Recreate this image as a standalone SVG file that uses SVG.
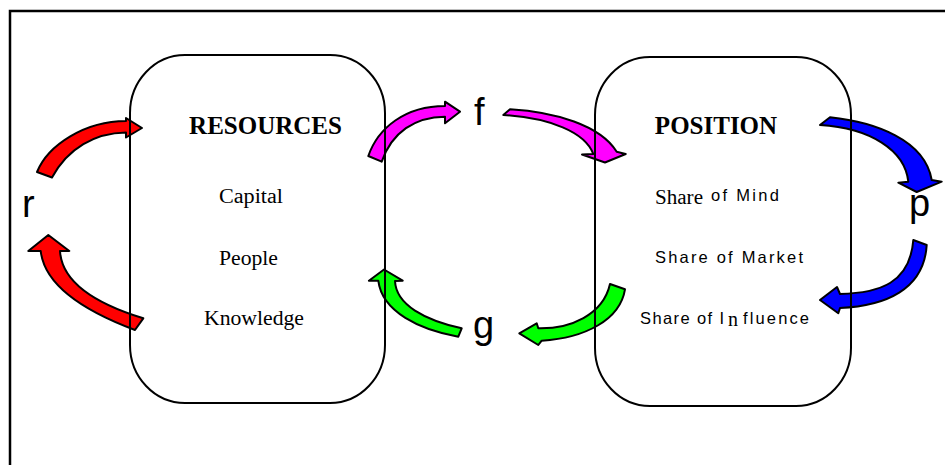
<svg xmlns="http://www.w3.org/2000/svg" width="945" height="465" viewBox="0 0 945 465">
<style>
.frame{fill:none;stroke:#000;stroke-width:2.5}
.box{fill:none;stroke:#000;stroke-width:2}
.arr{stroke:#000;stroke-width:2;stroke-linejoin:round}
.red{fill:#ff0000}.mag{fill:#ff00ff}.blue{fill:#0000ff}.green{fill:#00ff00}
.title{font-family:"Liberation Serif",serif;font-weight:bold;font-size:25px;fill:#000}
.serif{font-family:"Liberation Serif",serif;font-size:20px;fill:#000}
.sans{font-family:"Liberation Sans",Arial,sans-serif;font-size:16.5px;fill:#000}
.lbl{font-family:"Liberation Sans",Arial,sans-serif;font-size:38px;fill:#000}
</style>
<rect width="945" height="465" fill="#fff"/>
<rect class="frame" x="10" y="11" width="960" height="480"/>
<g id="connectors">
<path class="arr red" d="M37,172 C48,145 85,121 126,121 L126,118 L142,128 L126,137.5 L126,132.5 C95,133 68,148 52,177.5 Z"/>
<path class="arr red" d="M135,330 C95,315 45,290 40.7,251 L28.3,251 L48.3,235 L69.3,251 L60,251 C62,285 100,305 143.3,318.3 Z"/>
<path class="arr mag" d="M368.3,156 C378,128 405,106 445,106 L445,101.7 L460,111.7 L445,123.3 L445,116.7 C415,117 392,132 381.7,161.7 Z"/>
<path class="arr mag" d="M510,109.3 C555,112 600,125 616.7,151.7 L625.7,154 L605,162.5 L582,154.5 L593.3,154 C585,132 550,118 503.3,115 Z"/>
<path class="arr blue" d="M830,117.3 C875,122 925,140 931.7,180 L941.7,181.7 L916.7,192 L898.3,182.7 L908.3,181.7 C905,150 870,128 820,125 Z"/>
<path class="arr blue" d="M926.7,245 C924,290 885,306 840,308 L838.3,313.3 L820,300 L837,287 L840,294 C880,293 910,283 913.3,240 Z"/>
<path class="arr green" d="M458.3,336.7 C420,330 382,312 378.3,280.7 L368.9,280.7 L384,269.5 L402.7,280.7 L395,281 C396,305 425,320 461.7,328.3 Z"/>
<path class="arr green" d="M625,289.3 C620,320 585,338 541.7,340.7 L538.3,345 L519.3,333.3 L536.7,323.3 L538.3,328.3 C570,329 603,315 610,284 Z"/>
</g>
<g id="resources">
<rect class="box" x="130" y="55" width="255" height="348" rx="55" ry="58"/>
<text class="title" x="265.5" y="134" text-anchor="middle">RESOURCES</text>
<text class="serif" x="219" y="203" textLength="64" lengthAdjust="spacingAndGlyphs">Capital</text>
<text class="serif" x="219" y="265" textLength="59" lengthAdjust="spacingAndGlyphs">People</text>
<text class="serif" x="204" y="325" textLength="100" lengthAdjust="spacingAndGlyphs">Knowledge</text>
</g>
<g id="position">
<rect class="box" x="595" y="57" width="256" height="349" rx="55" ry="58"/>
<text class="title" x="716" y="134" text-anchor="middle">POSITION</text>
<text class="serif" x="655" y="204" textLength="48" lengthAdjust="spacingAndGlyphs">Share</text>
<text class="sans" x="711" y="201" textLength="68">of Mind</text>
<text class="sans" x="655" y="263" textLength="148">Share of Market</text>
<text class="sans" x="640" y="324" textLength="84">Share of I</text>
<text class="serif" x="728" y="326">n</text>
<text class="sans" x="743" y="324" textLength="66">fluence</text>
</g>
<g id="label-r"><text class="lbl" x="22" y="217">r</text></g>
<g id="label-f"><text class="lbl" x="474" y="125">f</text></g>
<g id="label-g"><text class="lbl" x="473" y="338">g</text></g>
<g id="label-p"><text class="lbl" x="909" y="216">p</text></g>
</svg>
